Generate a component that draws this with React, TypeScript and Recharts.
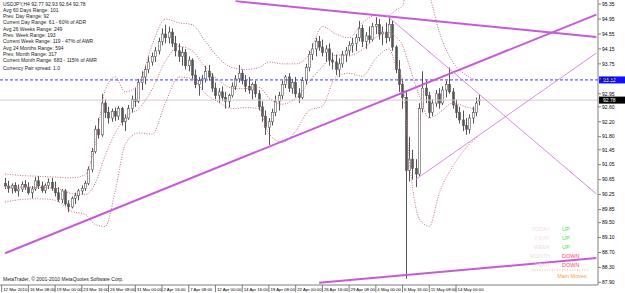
import React from "react";
import { ComposedChart, Bar, Line, XAxis, YAxis, ReferenceLine } from "recharts";

// H4 USDJPY candles, two bars per slot (12 Mar 2010 - 18 May 2010)
const opens = [
  90.55, 90.48, 90.42, 90.5, 90.35, 90.4, 90.52, 90.45, 90.3, 90.4, 90.62, 90.48, 90.36, 90.5, 90.58, 90.42, 90.3, 90.12, 90.35, 90.0,
  89.92, 90.15, 90.22, 90.35, 90.42, 90.55, 90.92, 91.4, 92.0, 91.85, 92.7, 92.45, 92.3, 92.48, 92.35, 92.55, 92.2, 92.3, 92.55, 92.8,
  92.75, 93.25, 93.4, 93.6, 93.8, 93.95, 94.1, 94.35, 94.55, 94.45, 94.6, 94.3, 94.1, 93.95, 94.05, 93.7, 93.85, 93.45, 93.2, 93.3,
  93.35, 93.55, 93.4, 93.1, 92.9, 93.0, 92.85, 92.75, 92.9, 93.15, 93.35, 93.5, 93.3, 93.15, 93.05, 93.2, 92.95, 92.6, 92.35, 92.05,
  92.2, 92.45, 92.75, 92.9, 93.2, 93.4, 93.1, 93.25, 92.95, 92.85, 93.3, 93.65, 94.0, 94.15, 94.35, 94.2, 94.05, 94.15, 93.85, 93.8,
  93.6, 93.75, 94.0, 94.1, 94.25, 94.3, 94.45, 94.7, 94.35, 94.5, 94.4, 94.75, 94.8, 94.55, 94.6, 94.45, 94.8, 94.2, 93.6, 93.2,
  92.85, 90.9, 91.2, 90.95, 90.8, 92.55, 93.1, 92.9, 92.45, 92.7, 92.95, 92.7, 93.05, 93.2, 93.0, 92.65, 92.45, 92.25, 92.1, 92.0,
  92.3, 92.45, 92.77,
];
const highs = [
  90.7, 90.62, 90.55, 90.58, 90.52, 90.6, 90.64, 90.58, 90.48, 90.72, 90.75, 90.6, 90.55, 90.68, 90.7, 90.6, 90.45, 90.4, 90.4, 90.1,
  90.2, 90.3, 90.4, 90.5, 90.62, 91.0, 91.5, 92.1, 92.3, 92.95, 92.8, 92.6, 92.55, 92.58, 92.62, 92.6, 92.4, 92.65, 92.9, 93.1,
  93.35, 93.55, 93.7, 93.95, 94.05, 94.2, 94.45, 94.7, 94.8, 94.75, 94.7, 94.5, 94.3, 94.2, 94.15, 93.95, 93.9, 93.6, 93.4, 93.45,
  93.7, 93.72, 93.5, 93.25, 93.1, 93.15, 93.0, 92.95, 93.25, 93.45, 93.72, 93.6, 93.45, 93.4, 93.25, 93.3, 93.05, 92.75, 92.5, 92.3,
  92.55, 92.9, 93.0, 93.3, 93.45, 93.5, 93.35, 93.4, 93.1, 93.4, 93.75, 94.1, 94.3, 94.45, 94.5, 94.4, 94.25, 94.3, 94.05, 94.0,
  93.9, 94.1, 94.2, 94.35, 94.45, 94.55, 94.9, 94.8, 94.6, 94.75, 94.85, 95.0, 94.95, 94.75, 94.85, 95.0, 94.9, 94.25, 93.85, 93.35,
  93.05, 91.8, 91.45, 91.2, 92.7, 93.55, 93.3, 93.0, 92.8, 93.05, 93.1, 93.15, 93.3, 93.65, 93.1, 92.8, 92.6, 92.5, 92.3, 92.4,
  92.6, 92.85, 92.93,
];
const lows = [
  90.4, 90.3, 90.28, 90.3, 90.2, 90.32, 90.38, 90.25, 90.15, 90.35, 90.4, 90.3, 90.28, 90.4, 90.35, 90.2, 90.05, 90.02, 89.95, 89.78,
  89.88, 90.0, 90.1, 90.25, 90.35, 90.5, 90.85, 91.35, 91.75, 91.8, 92.3, 92.15, 92.2, 92.22, 92.25, 92.1, 91.95, 92.25, 92.45, 92.6,
  92.7, 93.05, 93.2, 93.5, 93.7, 93.8, 94.0, 94.25, 94.3, 94.3, 94.2, 93.95, 93.8, 93.7, 93.6, 93.55, 93.35, 93.1, 92.9, 93.05,
  93.25, 93.3, 93.0, 92.8, 92.7, 92.75, 92.55, 92.58, 92.85, 93.05, 93.25, 93.2, 93.0, 92.95, 92.8, 92.85, 92.5, 92.2, 91.85, 91.58,
  92.1, 92.35, 92.5, 92.8, 93.1, 93.0, 92.95, 92.85, 92.7, 92.8, 93.2, 93.55, 93.85, 93.95, 94.1, 93.95, 93.8, 93.7, 93.6, 93.45,
  93.4, 93.65, 93.8, 93.95, 94.05, 94.1, 94.35, 94.2, 94.15, 94.3, 94.35, 94.55, 94.4, 94.25, 94.3, 94.35, 94.1, 93.5, 93.0, 92.55,
  88.0, 90.6, 90.65, 90.45, 90.75, 92.45, 92.7, 92.3, 92.35, 92.6, 92.55, 92.65, 92.85, 92.95, 92.55, 92.3, 92.15, 91.95, 91.85, 91.88,
  92.15, 92.35, 92.64,
];
const closes = [
  90.48, 90.42, 90.5, 90.35, 90.4, 90.52, 90.45, 90.3, 90.4, 90.62, 90.48, 90.36, 90.5, 90.58, 90.42, 90.3, 90.12, 90.35, 90.0, 89.92,
  90.15, 90.22, 90.35, 90.42, 90.55, 90.92, 91.4, 92.0, 91.85, 92.7, 92.45, 92.3, 92.48, 92.35, 92.55, 92.2, 92.3, 92.55, 92.8, 92.75,
  93.25, 93.4, 93.6, 93.8, 93.95, 94.1, 94.35, 94.55, 94.45, 94.6, 94.3, 94.1, 93.95, 94.05, 93.7, 93.85, 93.45, 93.2, 93.3, 93.35,
  93.55, 93.4, 93.1, 92.9, 93.0, 92.85, 92.75, 92.9, 93.15, 93.35, 93.5, 93.3, 93.15, 93.05, 93.2, 92.95, 92.6, 92.35, 92.05, 92.2,
  92.45, 92.75, 92.9, 93.2, 93.4, 93.1, 93.25, 92.95, 92.85, 93.3, 93.65, 94.0, 94.15, 94.35, 94.2, 94.05, 94.15, 93.85, 93.8, 93.6,
  93.75, 94.0, 94.1, 94.25, 94.3, 94.45, 94.7, 94.35, 94.5, 94.4, 94.75, 94.8, 94.55, 94.6, 94.45, 94.8, 94.2, 93.6, 93.2, 92.85,
  90.9, 91.2, 90.95, 90.8, 92.55, 93.1, 92.9, 92.45, 92.7, 92.95, 92.7, 93.05, 93.2, 93.0, 92.65, 92.45, 92.25, 92.1, 92.0, 92.3,
  92.45, 92.7, 92.78,
];

// Bollinger bands, sampled at candle slots
const bandSlots = [0, 5, 10, 15, 20, 24, 27, 30, 33, 36, 40, 44, 48, 52, 56, 60, 64, 68, 72, 76, 79, 83, 87, 91, 95, 99, 103, 107, 111, 115, 117, 119, 121, 124, 127, 130, 134, 138, 142];
const upperBand = [90.8, 90.76, 90.74, 90.72, 90.7, 90.78, 91.6, 93.05, 93.4, 93.0, 93.2, 94.25, 94.95, 94.85, 94.8, 94.35, 93.9, 93.65, 93.6, 93.65, 93.8, 93.75, 93.75, 94.0, 94.75, 94.55, 94.45, 94.85, 95.05, 95.05, 95.2, 95.3, 96.3, 96.1, 95.6, 94.6, 93.8, 93.45, 93.3];
const midBand = [90.45, 90.45, 90.44, 90.42, 90.28, 90.25, 90.55, 91.3, 91.9, 92.32, 92.55, 93.06, 93.82, 94.22, 94.1, 93.65, 93.31, 93.1, 93.09, 93.12, 92.84, 92.67, 92.83, 93.26, 93.68, 93.98, 93.98, 94.13, 94.46, 94.59, 94.47, 94.25, 93.7, 92.9, 92.3, 92.44, 92.7, 92.6, 92.5];
const lowerBand = [90.05, 90.12, 90.14, 90.1, 89.8, 89.72, 89.45, 89.4, 90.35, 91.6, 91.9, 91.87, 92.7, 93.4, 93.35, 92.95, 92.72, 92.55, 92.58, 92.55, 91.88, 91.65, 91.95, 92.5, 92.62, 93.4, 93.5, 93.42, 93.9, 94.15, 93.7, 93.3, 91.2, 89.6, 89.4, 90.3, 91.0, 91.5, 91.85];

// Trend lines: [category, price] end points
const trendA = [[1, 88.68], [178, 95.07]];
const trendB = [[70, 95.43], [178, 94.47]];
const trendC = [[115, 95.06], [178, 90.27]];
const trendD = [[124, 90.66], [178, 94.04]];
const trendE = [[95, 87.89], [178, 88.55]];

const userLevel = 93.32;
const bidPrice = 92.78;

const priceTicks = [95.35, 94.95, 94.55, 94.15, 93.75, 93.35, 92.95, 92.6, 92.2, 91.8, 91.45, 91.05, 90.65, 90.25, 89.85, 89.5, 89.1, 88.7, 88.3, 87.9];
const timeTickCats = [0, 8, 16, 24, 32, 40, 48, 56, 64, 72, 80, 88, 96, 104, 112, 120, 128, 136];
const timeTickLabels = ["12 Mar 2010", "16 Mar 08:00", "19 Mar 00:00", "23 Mar 16:00", "26 Mar 08:00", "31 Mar 00:00", "2 Apr 16:00", "7 Apr 08:00", "12 Apr 00:00", "14 Apr 16:00", "19 Apr 08:00", "22 Apr 00:00", "26 Apr 16:00", "29 Apr 08:00", "4 May 00:00", "6 May 16:00", "11 May 08:00", "14 May 00:00"];

const infoLines = [
  "USDJPY,H4  92.77 92.93 92.64 92.78",
  "Avg 60 Days Range: 101",
  "Prev. Day Range: 92",
  "Current Day Range: 61 - 60% of ADR",
  "Avg 26 Weeks Range: 249",
  "Prev. Week Range: 193",
  "Current Week Range: 119 - 47% of AWR",
  "Avg 24 Months Range: 594",
  "Prev. Month Range: 317",
  "Current Month Range: 683 - 115% of AMR",
  "Currency Pair spread: 1.0",
];
const infoY = [6, 12, 18, 24, 31, 37, 43, 50, 56, 62, 70];

const moveNames = ["TODAY", "Y-DAY", "WEEK", "MONTH", "YEAR"];
const moveDirs = ["UP", "UP", "UP", "DOWN", "DOWN"];

const TOTAL = 179;
const FONT = "'Liberation Sans', Arial, sans-serif";

const rows: any[] = Array.from({ length: TOTAL }, (_, i) => ({ i }));
opens.forEach((o, j) => {
  const r = rows[j + 1];
  r.o = o;
  r.h = highs[j];
  r.l = lows[j];
  r.c = closes[j];
  r.range = [lows[j], highs[j]];
});
bandSlots.forEach((s, k) => {
  rows[s + 1].up = upperBand[k];
  rows[s + 1].mid = midBand[k];
  rows[s + 1].lo = lowerBand[k];
});
const trends: [string, number[][]][] = [["tA", trendA], ["tB", trendB], ["tC", trendC], ["tD", trendD], ["tE", trendE]];
trends.forEach(([key, pts]) => pts.forEach(([cat, p]) => (rows[cat][key] = p)));

function Candle(props: any) {
  const { x, y, width, height, payload } = props;
  if (!payload || payload.o == null || height == null) return null;
  const top = Math.min(y, y + height);
  const h = Math.abs(height);
  const span = payload.h - payload.l || 1;
  const yOf = (v: number) => top + ((payload.h - v) / span) * h;
  const cx = Math.round(x + width / 2) + 0.5;
  const yo = yOf(payload.o);
  const yc = yOf(payload.c);
  const bull = payload.c >= payload.o;
  return (
    <g>
      <line x1={cx} x2={cx} y1={top} y2={top + h} stroke="#555555" strokeWidth={1} />
      <rect x={cx - 1} y={Math.min(yo, yc)} width={2} height={Math.max(Math.abs(yc - yo), 0.8)} fill={bull ? "#ffffff" : "#555555"} stroke="#555555" strokeWidth={0.6} />
    </g>
  );
}

function TimeTick(props: any) {
  const { x, y, payload } = props;
  const idx = timeTickCats.indexOf(payload.value);
  if (idx < 0) return null;
  return (
    <g>
      <line x1={x} x2={x} y1={y} y2={y + 7} stroke="#606060" strokeWidth={0.8} />
      <text x={x + 1.5} y={y + 6.3} fontSize={4.3} fontFamily={FONT} fill="#000">
        {timeTickLabels[idx]}
      </text>
    </g>
  );
}

function PriceBox(color: string, text: string) {
  return (props: any) => {
    const vb = props.viewBox || {};
    const bx = vb.x + vb.width + 1;
    return (
      <g>
        <rect x={bx} y={vb.y - 3.5} width={26} height={7} fill={color} />
        <text x={bx + 4} y={vb.y + 2} fontSize={5} fontFamily={FONT} fill="#fff">
          {text}
        </text>
      </g>
    );
  };
}

export default function App() {
  return (
    <div style={{ position: "absolute", left: 0, top: 0, width: 625, height: 293, background: "#fff", overflow: "hidden" }}>
      <ComposedChart width={625} height={293} data={rows} margin={{ top: 0, right: 0, bottom: 0, left: 0 }}>
        <XAxis
          dataKey="i"
          type="category"
          height={8}
          ticks={timeTickCats}
          interval={0}
          tickSize={0}
          tickMargin={0}
          tickLine={false}
          axisLine={{ stroke: "#808080" }}
          tick={<TimeTick />}
        />
        <YAxis
          orientation="right"
          width={27}
          domain={[87.83, 95.46]}
          allowDataOverflow
          ticks={priceTicks}
          interval={0}
          tickFormatter={(v: number) => v.toFixed(2)}
          tick={{ fontSize: 5, fill: "#000", fontFamily: FONT }}
          tickSize={3}
          tickMargin={1}
          tickLine={{ stroke: "#808080" }}
          axisLine={{ stroke: "#808080" }}
        />
        <ReferenceLine y={bidPrice} stroke="#d8c8cc" strokeWidth={1} label={PriceBox("#000000", bidPrice.toFixed(2))} />
        <ReferenceLine y={userLevel} stroke="#3a3aff" strokeDasharray="3 2" strokeWidth={1} label={PriceBox("#1010ff", userLevel.toFixed(2))} />
        <Line dataKey="up" type="monotone" connectNulls dot={false} activeDot={false} stroke="#c97070" strokeWidth={1} strokeDasharray="1 1.5" isAnimationActive={false} />
        <Line dataKey="mid" type="monotone" connectNulls dot={false} activeDot={false} stroke="#c97070" strokeWidth={1} strokeDasharray="1 1.5" isAnimationActive={false} />
        <Line dataKey="lo" type="monotone" connectNulls dot={false} activeDot={false} stroke="#c97070" strokeWidth={1} strokeDasharray="1 1.5" isAnimationActive={false} />
        <Bar dataKey="range" barSize={3} shape={(p: any) => <Candle {...p} />} isAnimationActive={false} />
        <Line dataKey="tA" type="linear" connectNulls dot={false} activeDot={false} stroke="#c65ad8" strokeWidth={2} isAnimationActive={false} />
        <Line dataKey="tB" type="linear" connectNulls dot={false} activeDot={false} stroke="#c65ad8" strokeWidth={2} isAnimationActive={false} />
        <Line dataKey="tC" type="linear" connectNulls dot={false} activeDot={false} stroke="#d68ee4" strokeWidth={1} isAnimationActive={false} />
        <Line dataKey="tD" type="linear" connectNulls dot={false} activeDot={false} stroke="#d68ee4" strokeWidth={1} isAnimationActive={false} />
        <Line dataKey="tE" type="linear" connectNulls dot={false} activeDot={false} stroke="#c65ad8" strokeWidth={2} isAnimationActive={false} />
      </ComposedChart>
      <svg width={625} height={293} style={{ position: "absolute", left: 0, top: 0, pointerEvents: "none" }}>
        {infoLines.map((t, k) => (
          <text key={k} x={3} y={infoY[k]} fontSize={5} fontFamily={FONT} fill="#222">
            {t}
          </text>
        ))}
        <text x={3} y={281} fontSize={5} fontFamily={FONT} fill="#222">
          MetaTrader, © 2001-2010 MetaQuotes Software Corp.
        </text>
        {moveNames.map((n, k) => (
          <g key={n}>
            <text x={550} y={231 + k * 9} fontSize={5.5} fontFamily={FONT} fill="#f2dede" textAnchor="end">
              {n}
            </text>
            <text x={562} y={231 + k * 9} fontSize={5.5} fontFamily={FONT} fill={moveDirs[k] === "UP" ? "#4be04b" : "#ff4466"}>
              {moveDirs[k]}
            </text>
          </g>
        ))}
        <line x1={532} x2={588} y1={270} y2={270} stroke="#f3b070" strokeWidth={1} strokeDasharray="1 1.5" />
        <text x={572} y={278} fontSize={5.5} fontFamily={FONT} fill="#f3a050" textAnchor="middle">
          Main Moves
        </text>
      </svg>
    </div>
  );
}
